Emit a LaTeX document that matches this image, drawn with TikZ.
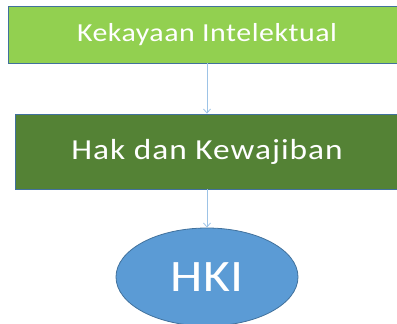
\documentclass[tikz,border=0pt]{standalone}
\usepackage{fontspec}
\setmainfont{Carlito}
\newfontfamily\widefontA[FakeStretch=1.15,LetterSpace=2]{Carlito}
\newfontfamily\widefontB[FakeStretch=1.15,LetterSpace=3.5]{Carlito}
\newfontfamily\stretchfont[FakeStretch=1.15]{Carlito}
\usetikzlibrary{shapes.geometric,arrows.meta}
\definecolor{lightgreen}{HTML}{92D050}
\definecolor{darkgreen}{HTML}{548235}
\definecolor{ellblue}{HTML}{5B9BD5}
\definecolor{edgeblue}{HTML}{41719C}
\definecolor{arrowblue}{HTML}{9DC3E6}
\begin{document}
\begin{tikzpicture}[x=1pt,y=-1pt,
  boxstyle/.style={draw=edgeblue,line width=0.8pt,text=white,inner sep=0pt,anchor=center},
  conn/.style={draw=arrowblue,line width=0.8pt,-{Straight Barb[length=4pt,width=7pt]}}]
\useasboundingbox (0,0) rectangle (397,324);
\clip (0,0) rectangle (397,324);
\node[boxstyle,fill=lightgreen,minimum width=398pt,minimum height=57pt,font=\widefontA\fontsize{26}{30}\selectfont] (ki) at (207,34.5) {Kekayaan Intelektual};
\node[boxstyle,fill=darkgreen,minimum width=384pt,minimum height=75pt,font=\widefontB\fontsize{29}{33}\selectfont] (hk) at (207,151.5) {Hak dan Kewajiban};
\node[boxstyle,ellipse,fill=ellblue,minimum width=182pt,minimum height=98pt,font=\stretchfont\fontsize{45}{50}\selectfont] (hki) at (207,277) {HKI};
\draw[conn] (ki) -- (hk);
\draw[conn] (hk) -- (hki);
\end{tikzpicture}
\end{document}
